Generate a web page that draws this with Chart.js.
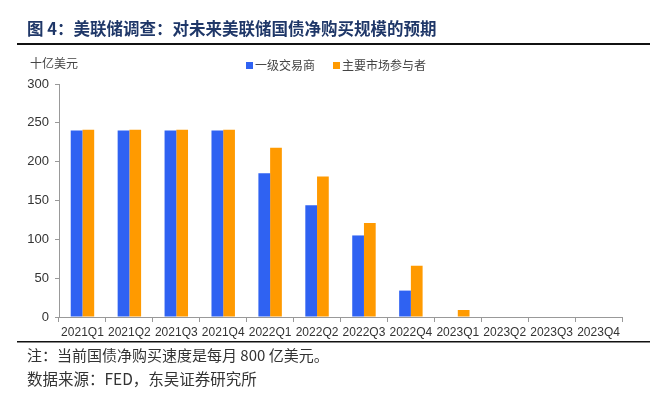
<!DOCTYPE html>
<html>
<head>
<meta charset="utf-8">
<script src="https://cdn.jsdelivr.net/npm/chart.js@4/dist/chart.umd.min.js"></script>
<style>
  html, body { margin: 0; padding: 0; background: #fff; }
  #wrap { width: 650px; height: 402px; position: relative; }
</style>
</head>
<body>
<div id="wrap"><canvas id="qtChart" width="650" height="402"></canvas></div>
<script>
const quarters = ['2021Q1', '2021Q2', '2021Q3', '2021Q4', '2022Q1', '2022Q2',
                  '2022Q3', '2022Q4', '2023Q1', '2023Q2', '2023Q3', '2023Q4'];
const primaryDealers = [240, 240, 240, 240, 185, 144, 105, 34, 0, 0, 0, 0];
const marketParticipants = [241, 241, 241, 241, 218, 181, 121, 66, 9, 0, 0, 0];
const yTicks = [0, 50, 100, 150, 200, 250, 300];

const titleText = '图 4：美联储调查：对未来美联储国债净购买规模的预期';
const unitText = '十亿美元';
const noteText = '注：当前国债净购买速度是每月 800 亿美元。';
const sourceText = '数据来源：FED，东吴证券研究所';

const cjk = '"Noto Sans CJK SC", "Noto Sans", sans-serif';
const latin = '"Liberation Sans", Arial, "Noto Sans CJK SC", sans-serif';

// title, rules, unit label, legend and footnotes
const decor = {
    id: 'decor',
    afterDraw(chart) {
        const ctx = chart.ctx;
        ctx.save();
        ctx.textBaseline = 'middle';
        ctx.textAlign = 'left';

        ctx.fillStyle = '#1f3768';
        ctx.font = 'bold 16.5px ' + cjk;
        ctx.fillText(titleText, 27, 29);

        ctx.fillStyle = '#111';
        ctx.fillRect(17, 43, 633, 2);
        ctx.fillRect(17, 341, 633, 1.5);

        ctx.fillStyle = '#444';
        ctx.font = '12px ' + cjk;
        ctx.fillText(unitText, 30, 63);

        // legend
        let x = 246;
        chart.data.datasets.forEach(ds => {
            ctx.fillStyle = ds.backgroundColor;
            ctx.fillRect(x, 62, 7, 7);
            ctx.fillStyle = '#444';
            ctx.font = '12px ' + cjk;
            ctx.fillText(ds.label, x + 9, 65);
            x += 87;
        });

        ctx.fillStyle = '#333';
        ctx.font = '15px ' + cjk;
        ctx.fillText(noteText, 27, 355);
        ctx.font = '15.5px ' + cjk;
        ctx.fillText(sourceText, 27, 379);
        ctx.restore();
    }
};

const ctx = document.getElementById('qtChart').getContext('2d');
new Chart(ctx, {
    type: 'bar',
    data: {
        labels: quarters,
        datasets: [{
            label: '一级交易商',
            data: primaryDealers,
            backgroundColor: '#2f62f2',
            borderWidth: 0
        }, {
            label: '主要市场参与者',
            data: marketParticipants,
            backgroundColor: '#ff9a00',
            borderWidth: 0
        }]
    },
    options: {
        responsive: false,
        animation: false,
        layout: { padding: { left: 0, right: 28, top: 84, bottom: 0 } },
        plugins: {
            legend: { display: false },
            title: { display: false },
            tooltip: { enabled: false }
        },
        datasets: {
            bar: { categoryPercentage: 0.5, barPercentage: 1.0 }
        },
        scales: {
            x: {
                offset: true,
                afterFit: s => { s.height = 85; },
                grid: {
                    offset: true,
                    drawOnChartArea: false,
                    tickLength: 5,
                    color: '#999'
                },
                border: { color: '#999', width: 1 },
                ticks: {
                    color: '#333',
                    padding: 3,
                    maxRotation: 0,
                    autoSkip: false,
                    font: { family: latin, size: 12 }
                }
            },
            y: {
                min: 0,
                max: 300,
                afterFit: s => { s.width = 59; },
                afterBuildTicks: s => { s.ticks = yTicks.map(v => ({ value: v })); },
                grid: {
                    drawOnChartArea: false,
                    tickLength: 4,
                    color: '#999'
                },
                border: { color: '#999', width: 1 },
                ticks: {
                    color: '#333',
                    padding: 6,
                    font: { family: latin, size: 13 }
                }
            }
        }
    },
    plugins: [decor]
});
</script>
</body>
</html>
